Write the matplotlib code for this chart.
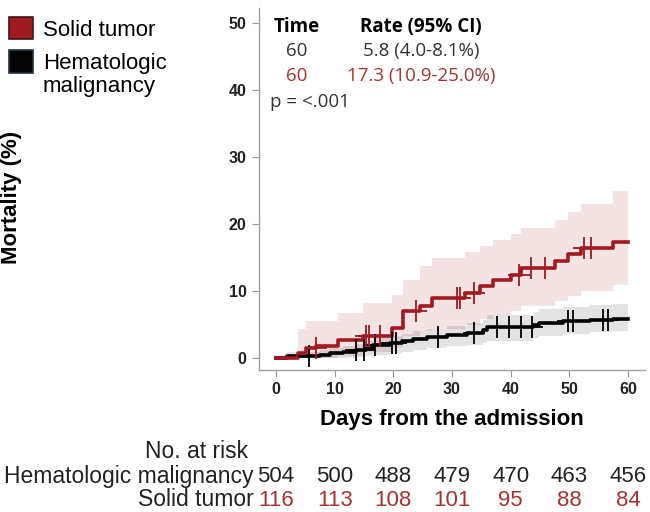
import numpy as np
import matplotlib.pyplot as plt
from matplotlib.patches import Rectangle
from matplotlib.transforms import blended_transform_factory

plt.rcParams['font.family'] = ['Liberation Sans', 'DejaVu Sans']

# cumulative mortality steps (days, %)
red_t = [0, 3.8, 5.1, 6.9, 10.6, 14.9, 19.7, 21.6, 24.5, 26.6, 32.2, 34.7, 37.0,
         40.1, 41.8, 47.5, 49.8, 52.0, 57.4, 60]
red_v = [0, 0.8, 1.6, 1.8, 2.7, 3.4, 4.5, 7.0, 7.8, 9.0, 9.7, 10.8, 11.7,
         12.5, 13.5, 14.5, 15.5, 16.4, 17.3, 17.3]
red_lo = [0, 0, 0, 0, 0.3, 0.9, 1.7, 3.3, 4.0, 4.4, 5.0, 5.8, 6.5,
          7.0, 7.8, 8.5, 9.3, 10.0, 10.9, 10.9]
red_hi = [0, 4.3, 5.5, 5.6, 6.8, 8.2, 9.4, 11.7, 13.8, 15.0, 15.8, 16.8, 17.7,
          18.5, 19.4, 20.6, 21.9, 23.1, 25.0, 25.0]
red_cens = [6.8, 15.3, 15.8, 17.7, 23.8, 30.9, 31.4, 33.7, 41.5, 43.5, 45.8, 52.5, 53.7]

blk_t = [0, 1.8, 7.5, 9.2, 11.5, 13.7, 15.4, 16.6, 19.4, 21.4, 23.4, 25.7, 29.1,
         32.5, 35.3, 35.9, 43.8, 44.9, 48.9, 53.5, 57.4, 60]
blk_v = [0, 0.3, 0.5, 0.8, 1.0, 1.3, 1.6, 2.0, 2.3, 2.6, 2.9, 3.2, 3.5,
         3.8, 4.2, 4.7, 5.0, 5.3, 5.6, 5.7, 5.8, 5.8]
blk_lo = [0, 0, 0, 0, 0.1, 0.2, 0.3, 0.5, 0.8, 1.0, 1.2, 1.5, 1.8,
          2.0, 2.3, 2.6, 3.0, 3.3, 3.6, 3.9, 4.0, 4.0]
blk_hi = [0, 0.9, 1.3, 1.6, 1.9, 2.2, 2.6, 3.0, 3.3, 3.6, 4.0, 4.4, 4.8,
          5.2, 5.7, 6.5, 6.9, 7.3, 7.7, 8.0, 8.1, 8.1]
blk_cens = [5.7, 13.7, 15.0, 16.9, 19.7, 20.5, 27.6, 33.7, 37.6, 39.7, 41.7,
            43.6, 49.7, 50.6, 55.7, 56.6]

risk_days = [0, 10, 20, 30, 40, 50, 60]
risk_heme = [504, 500, 488, 479, 470, 463, 456]
risk_solid = [116, 113, 108, 101, 95, 88, 84]

RED = '#a3191f'
RED_TXT = '#a83232'


def step_at(t, v, x):
    idx = np.searchsorted(np.asarray(t), np.asarray(x), side='right') - 1
    return np.asarray(v)[idx]


fig = plt.figure(figsize=(6.5, 5.12), dpi=100)
W, H = 650, 512
ax = fig.add_axes([259 / W, (H - 370) / H, (645 - 259) / W, (370 - 8) / H])

# confidence bands
ax.fill_between(red_t, red_lo, red_hi, step='post', color=RED, alpha=0.12, lw=0)
ax.fill_between(blk_t, blk_lo, blk_hi, step='post', color='black', alpha=0.11, lw=0)

# curves
ax.step(blk_t, blk_v, where='post', color='black', lw=2.6)
ax.step(red_t, red_v, where='post', color=RED, lw=2.6)

# censor marks
ax.plot(blk_cens, step_at(blk_t, blk_v, blk_cens), '+', color='black', ms=16, mew=1.3)
ax.plot(red_cens, step_at(red_t, red_v, red_cens), '+', color=RED, ms=16, mew=1.3)

ax.set_xlim(-2.9, 62.9)
ax.set_ylim(-1.75, 52.3)
ax.set_xticks(risk_days)
ax.set_yticks([0, 10, 20, 30, 40, 50])
for s in ['top', 'right']:
    ax.spines[s].set_visible(False)
for s in ['left', 'bottom']:
    ax.spines[s].set_color('#a0a0a0')
    ax.spines[s].set_linewidth(1.0)
ax.tick_params(colors='#999999', length=5, width=0.8, labelcolor='#222222',
               labelsize=11.5, pad=4)
for lab in ax.get_xticklabels() + ax.get_yticklabels():
    lab.set_fontweight('bold')

fig.text(452 / W, 1 - 420 / H, 'Days from the admission', fontsize=16,
         fontweight='bold', ha='center', va='center')
fig.text(12 / W, 1 - 197 / H, 'Mortality (%)', rotation=90, fontsize=16,
         fontweight='bold', ha='center', va='center')

# rate table
tf = ['Open Sans', 'DejaVu Sans']
fig.text(297 / W, 1 - 27 / H, 'Time', fontsize=13.5, fontweight='bold', family=tf, ha='center', va='center')
fig.text(421 / W, 1 - 27 / H, 'Rate (95% CI)', fontsize=13.5, fontweight='bold', family=tf, ha='center', va='center')
fig.text(297 / W, 1 - 51 / H, '60', fontsize=13.5, color='#333333', family=tf, ha='center', va='center')
fig.text(421 / W, 1 - 51 / H, '5.8 (4.0-8.1%)', fontsize=13.5, color='#333333', family=tf, ha='center', va='center')
fig.text(297 / W, 1 - 76 / H, '60', fontsize=13.5, color=RED_TXT, family=tf, ha='center', va='center')
fig.text(421 / W, 1 - 76 / H, '17.3 (10.9-25.0%)', fontsize=13.5, color=RED_TXT, family=tf, ha='center', va='center')
fig.text(270 / W, 1 - 102 / H, 'p = <.001', fontsize=13.5, color='#333333', family=tf, ha='left', va='center')

# legend
fig.add_artist(Rectangle((9 / W, 1 - 39 / H), 24 / W, 22 / H, transform=fig.transFigure,
                         facecolor='#9e1b1f', edgecolor='#3a1a1a', lw=1.2))
fig.add_artist(Rectangle((9 / W, 1 - 73 / H), 24 / W, 23 / H, transform=fig.transFigure,
                         facecolor='#050505', edgecolor='#1f3340', lw=1.2))
fig.text(43 / W, 1 - 30 / H, 'Solid tumor', fontsize=16, va='center', ha='left')
fig.text(43 / W, 1 - 75 / H, 'Hematologic\nmalignancy', fontsize=16, va='center', ha='left',
         linespacing=1.1)

# number at risk
tr = blended_transform_factory(ax.transData, fig.transFigure)
fig.text(248 / W, 1 - 451 / H, 'No. at risk', fontsize=16.5, ha='right', va='center', color='#222222')
fig.text(254 / W, 1 - 476 / H, 'Hematologic malignancy', fontsize=16.5, ha='right', va='center', color='#222222')
fig.text(254 / W, 1 - 500 / H, 'Solid tumor', fontsize=16.5, ha='right', va='center', color='#222222')
for d, nh, ns in zip(risk_days, risk_heme, risk_solid):
    ax.text(d, 1 - 476 / H, str(nh), transform=tr, fontsize=16, ha='center', va='center',
            color='#222222', clip_on=False)
    ax.text(d, 1 - 500 / H, str(ns), transform=tr, fontsize=16, ha='center', va='center',
            color=RED_TXT, clip_on=False)

fig.savefig('out.png', dpi=100)
